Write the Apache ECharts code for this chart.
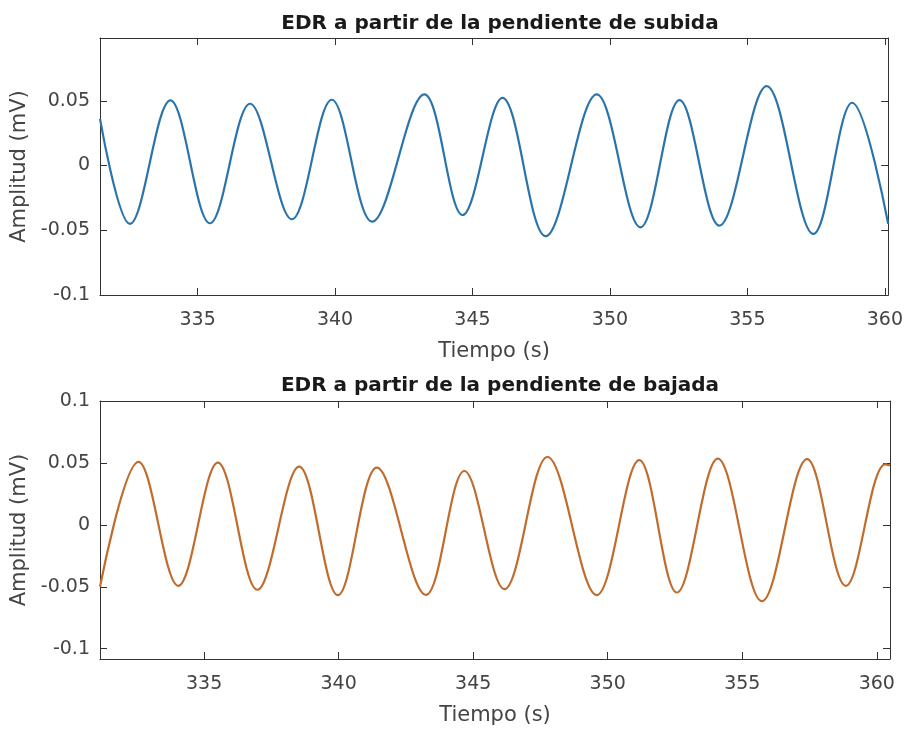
<!DOCTYPE html>
<html>
<head>
<meta charset="utf-8">
<script src="https://cdn.jsdelivr.net/npm/echarts@6/dist/echarts.min.js"></script>
<style>
html,body{margin:0;padding:0;background:#fff;}
#chart{width:906px;height:729px;}
</style>
</head>
<body>
<div id="chart"></div>
<script>
// ---- data (start, extrema, end) ----
const topTitle = 'EDR a partir de la pendiente de subida';
const botTitle = 'EDR a partir de la pendiente de bajada';
const xName = 'Tiempo (s)';
const yName = 'Amplitud (mV)';

const xTicks = [335, 340, 345, 350, 355, 360];
const yTicks = [-0.1, -0.05, 0, 0.05, 0.1];

const topTime = [331.45, 332.54, 334.01, 335.45, 336.91, 338.43, 339.88, 341.35, 343.25, 344.64, 346.09, 347.66, 349.52, 351.11, 352.53, 353.98, 355.70, 357.40, 358.81, 360.12];
const topAmp  = [0.036, -0.0451, 0.0503, -0.0446, 0.0477, -0.0415, 0.0508, -0.0433, 0.0549, -0.0382, 0.0523, -0.0546, 0.0549, -0.0477, 0.0505, -0.0464, 0.0613, -0.0528, 0.0485, -0.045];

const botTime = [331.13, 332.56, 334.04, 335.51, 336.98, 338.53, 339.97, 341.42, 343.24, 344.67, 346.16, 347.76, 349.59, 351.17, 352.57, 354.09, 355.73, 357.41, 358.85, 360.31, 360.49];
const botAmp  = [-0.050, 0.0508, -0.0492, 0.0503, -0.0524, 0.0470, -0.0567, 0.0462, -0.0565, 0.0435, -0.0519, 0.0548, -0.0567, 0.0522, -0.0546, 0.0535, -0.0616, 0.0530, -0.0492, 0.0489, 0.048];

const topXRange = [331.45, 360.12];
const botXRange = [331.13, 360.49];
const topYRange = [-0.1, 0.0985];
const botYRange = [-0.1083, 0.1];

// ---- styling ----
const FONT = 'DejaVu Sans';
const AX = '#333333';
const LBL = '#444444';

function pairs(t, v) { return t.map((x, i) => [x, v[i]]); }

function xAx(grid, range, pos, main) {
  return {
    type: 'value', gridIndex: grid, position: pos,
    min: range[0], max: range[1],
    name: main ? xName : '', nameLocation: 'middle', nameGap: 46,
    nameTextStyle: { fontFamily: FONT, fontSize: 21, color: LBL },
    axisLine: { show: true, onZero: false, lineStyle: { color: AX, width: 1 } },
    axisTick: { show: true, inside: true, length: 7, customValues: xTicks, lineStyle: { color: AX } },
    axisLabel: { show: main, customValues: xTicks, margin: 16, fontFamily: FONT, fontSize: 19, color: LBL },
    splitLine: { show: false }
  };
}
function yAx(grid, range, pos, main) {
  const vals = yTicks.filter(v => v >= range[0] - 1e-9 && v <= range[1] + 1e-9);
  return {
    type: 'value', gridIndex: grid, position: pos,
    min: range[0], max: range[1],
    name: main ? yName : '', nameLocation: 'middle', nameGap: 62, nameRotate: 90,
    nameTextStyle: { fontFamily: FONT, fontSize: 21, color: LBL },
    axisLine: { show: true, onZero: false, lineStyle: { color: AX, width: 1 } },
    axisTick: { show: true, inside: true, length: 7, customValues: vals, lineStyle: { color: AX } },
    axisLabel: { show: main, customValues: vals, margin: 10, fontFamily: FONT, fontSize: 19, color: LBL,
      formatter: v => String(Math.round(v * 1000) / 1000) },
    splitLine: { show: false }
  };
}

const chart = echarts.init(document.getElementById('chart'), null, { renderer: 'canvas' });
chart.setOption({
  animation: false,
  backgroundColor: '#ffffff',
  title: [
    { text: topTitle, left: 495, textAlign: 'center', top: 9,
      textStyle: { fontFamily: FONT, fontSize: 20, fontWeight: 'bold', color: '#1a1a1a' } },
    { text: botTitle, left: 495, textAlign: 'center', top: 371,
      textStyle: { fontFamily: FONT, fontSize: 20, fontWeight: 'bold', color: '#1a1a1a' } }
  ],
  grid: [
    { left: 100, top: 38, width: 790, height: 257 },
    { left: 100, top: 401, width: 790, height: 258 }
  ],
  xAxis: [
    xAx(0, topXRange, 'bottom', true),
    xAx(0, topXRange, 'top', false),
    xAx(1, botXRange, 'bottom', true),
    xAx(1, botXRange, 'top', false)
  ],
  yAxis: [
    yAx(0, topYRange, 'left', true),
    yAx(0, topYRange, 'right', false),
    yAx(1, botYRange, 'left', true),
    yAx(1, botYRange, 'right', false)
  ],
  series: [
    { type: 'line', xAxisIndex: 0, yAxisIndex: 0, data: pairs(topTime, topAmp),
      smooth: 0.36, showSymbol: false, lineStyle: { color: '#2a74ab', width: 2.2 } },
    { type: 'line', xAxisIndex: 2, yAxisIndex: 2, data: pairs(botTime, botAmp),
      smooth: 0.36, showSymbol: false, lineStyle: { color: '#c06c2c', width: 2.2 } }
  ]
});
</script>
</body>
</html>
